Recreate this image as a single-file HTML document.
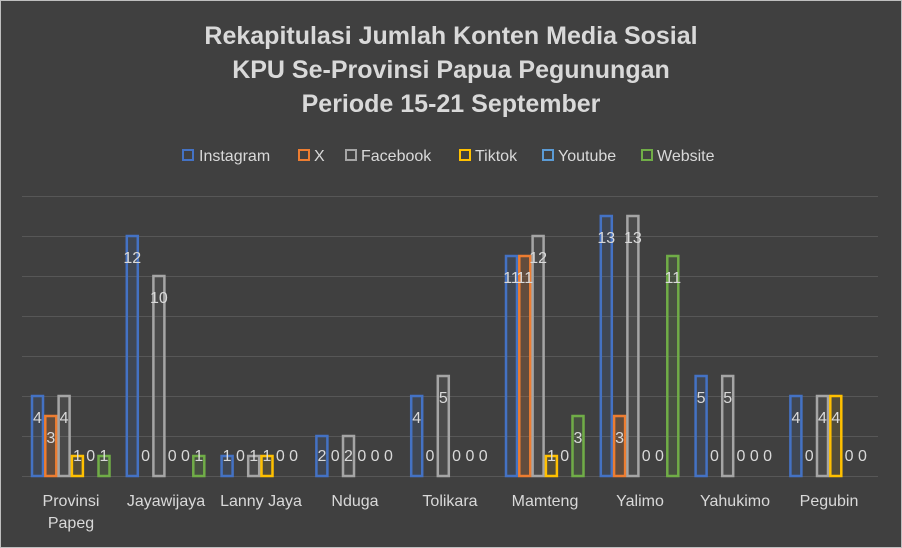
<!DOCTYPE html>
<html><head><meta charset="utf-8"><style>
html,body{margin:0;padding:0;background:#404040;}
svg{display:block;font-family:"Liberation Sans",sans-serif;}
</style></head><body>
<svg width="902" height="548" viewBox="0 0 902 548" xmlns="http://www.w3.org/2000/svg">
<rect x="0" y="0" width="902" height="548" fill="#404040"/>
<rect x="0.5" y="0.5" width="901" height="547" fill="none" stroke="#bfbfbf" stroke-width="1"/>
<g fill="#d9d9d9" font-weight="bold" font-size="25" text-anchor="middle">
<text x="451" y="44">Rekapitulasi Jumlah Konten Media Sosial</text>
<text x="451" y="78">KPU Se-Provinsi Papua Pegunungan</text>
<text x="451" y="112">Periode 15-21 September</text>
</g>
<g font-size="16" fill="#d9d9d9">
<rect x="183" y="150" width="10" height="10" fill="none" stroke="#4472C4" stroke-width="2"/><text x="199" y="161">Instagram</text>
<rect x="299" y="150" width="10" height="10" fill="none" stroke="#ED7D31" stroke-width="2"/><text x="314" y="161">X</text>
<rect x="346" y="150" width="10" height="10" fill="none" stroke="#A5A5A5" stroke-width="2"/><text x="361" y="161">Facebook</text>
<rect x="460" y="150" width="10" height="10" fill="none" stroke="#FFC000" stroke-width="2"/><text x="475" y="161">Tiktok</text>
<rect x="543" y="150" width="10" height="10" fill="none" stroke="#5B9BD5" stroke-width="2"/><text x="558" y="161">Youtube</text>
<rect x="642" y="150" width="10" height="10" fill="none" stroke="#70AD47" stroke-width="2"/><text x="657" y="161">Website</text>
</g>
<g stroke="#575757" stroke-width="1">
<line x1="22" x2="878" y1="196.5" y2="196.5"/>
<line x1="22" x2="878" y1="236.5" y2="236.5"/>
<line x1="22" x2="878" y1="276.5" y2="276.5"/>
<line x1="22" x2="878" y1="316.5" y2="316.5"/>
<line x1="22" x2="878" y1="356.5" y2="356.5"/>
<line x1="22" x2="878" y1="396.5" y2="396.5"/>
<line x1="22" x2="878" y1="436.5" y2="436.5"/>
<line x1="22" x2="878" y1="476.5" y2="476.5"/>
</g>
<g stroke-width="2.5">
<rect x="32" y="396" width="11" height="80" fill="rgba(68,114,196,0.15)" stroke="#4472C4"/>
<rect x="45.3" y="416" width="11" height="60" fill="rgba(237,125,49,0.2)" stroke="#ED7D31"/>
<rect x="58.6" y="396" width="11" height="80" fill="rgba(165,165,165,0.1)" stroke="#A5A5A5"/>
<rect x="71.9" y="456" width="11" height="20" fill="rgba(255,192,0,0.1)" stroke="#FFC000"/>
<rect x="98.5" y="456" width="11" height="20" fill="rgba(112,173,71,0.15)" stroke="#70AD47"/>
<rect x="126.8" y="236" width="11" height="240" fill="rgba(68,114,196,0.15)" stroke="#4472C4"/>
<rect x="153.4" y="276" width="11" height="200" fill="rgba(165,165,165,0.1)" stroke="#A5A5A5"/>
<rect x="193.3" y="456" width="11" height="20" fill="rgba(112,173,71,0.15)" stroke="#70AD47"/>
<rect x="221.6" y="456" width="11" height="20" fill="rgba(68,114,196,0.15)" stroke="#4472C4"/>
<rect x="248.2" y="456" width="11" height="20" fill="rgba(165,165,165,0.1)" stroke="#A5A5A5"/>
<rect x="261.5" y="456" width="11" height="20" fill="rgba(255,192,0,0.1)" stroke="#FFC000"/>
<rect x="316.4" y="436" width="11" height="40" fill="rgba(68,114,196,0.15)" stroke="#4472C4"/>
<rect x="343" y="436" width="11" height="40" fill="rgba(165,165,165,0.1)" stroke="#A5A5A5"/>
<rect x="411.2" y="396" width="11" height="80" fill="rgba(68,114,196,0.15)" stroke="#4472C4"/>
<rect x="437.8" y="376" width="11" height="100" fill="rgba(165,165,165,0.1)" stroke="#A5A5A5"/>
<rect x="506" y="256" width="11" height="220" fill="rgba(68,114,196,0.15)" stroke="#4472C4"/>
<rect x="519.3" y="256" width="11" height="220" fill="rgba(237,125,49,0.2)" stroke="#ED7D31"/>
<rect x="532.6" y="236" width="11" height="240" fill="rgba(165,165,165,0.1)" stroke="#A5A5A5"/>
<rect x="545.9" y="456" width="11" height="20" fill="rgba(255,192,0,0.1)" stroke="#FFC000"/>
<rect x="572.5" y="416" width="11" height="60" fill="rgba(112,173,71,0.15)" stroke="#70AD47"/>
<rect x="600.8" y="216" width="11" height="260" fill="rgba(68,114,196,0.15)" stroke="#4472C4"/>
<rect x="614.1" y="416" width="11" height="60" fill="rgba(237,125,49,0.2)" stroke="#ED7D31"/>
<rect x="627.4" y="216" width="11" height="260" fill="rgba(165,165,165,0.1)" stroke="#A5A5A5"/>
<rect x="667.3" y="256" width="11" height="220" fill="rgba(112,173,71,0.15)" stroke="#70AD47"/>
<rect x="695.6" y="376" width="11" height="100" fill="rgba(68,114,196,0.15)" stroke="#4472C4"/>
<rect x="722.2" y="376" width="11" height="100" fill="rgba(165,165,165,0.1)" stroke="#A5A5A5"/>
<rect x="790.4" y="396" width="11" height="80" fill="rgba(68,114,196,0.15)" stroke="#4472C4"/>
<rect x="817" y="396" width="11" height="80" fill="rgba(165,165,165,0.1)" stroke="#A5A5A5"/>
<rect x="830.3" y="396" width="11" height="80" fill="rgba(255,192,0,0.1)" stroke="#FFC000"/>
</g>
<g font-size="16" fill="#d9d9d9" text-anchor="middle">
<text x="37.5" y="423">4</text><text x="50.8" y="443">3</text><text x="64.1" y="423">4</text><text x="77.4" y="461">1</text><text x="90.7" y="461">0</text><text x="104" y="461">1</text>
<text x="132.3" y="263">12</text><text x="145.6" y="461">0</text><text x="158.9" y="303">10</text><text x="172.2" y="461">0</text><text x="185.5" y="461">0</text><text x="198.8" y="461">1</text>
<text x="227.1" y="461">1</text><text x="240.4" y="461">0</text><text x="253.7" y="461">1</text><text x="267" y="461">1</text><text x="280.3" y="461">0</text><text x="293.6" y="461">0</text>
<text x="321.9" y="461">2</text><text x="335.2" y="461">0</text><text x="348.5" y="461">2</text><text x="361.8" y="461">0</text><text x="375.1" y="461">0</text><text x="388.4" y="461">0</text>
<text x="416.7" y="423">4</text><text x="430" y="461">0</text><text x="443.3" y="403">5</text><text x="456.6" y="461">0</text><text x="469.9" y="461">0</text><text x="483.2" y="461">0</text>
<text x="511.5" y="283">11</text><text x="524.8" y="283">11</text><text x="538.1" y="263">12</text><text x="551.4" y="461">1</text><text x="564.7" y="461">0</text><text x="578" y="443">3</text>
<text x="606.3" y="243">13</text><text x="619.6" y="443">3</text><text x="632.9" y="243">13</text><text x="646.2" y="461">0</text><text x="659.5" y="461">0</text><text x="672.8" y="283">11</text>
<text x="701.1" y="403">5</text><text x="714.4" y="461">0</text><text x="727.7" y="403">5</text><text x="741" y="461">0</text><text x="754.3" y="461">0</text><text x="767.6" y="461">0</text>
<text x="795.9" y="423">4</text><text x="809.2" y="461">0</text><text x="822.5" y="423">4</text><text x="835.8" y="423">4</text><text x="849.1" y="461">0</text><text x="862.4" y="461">0</text>
</g>
<g font-size="16" fill="#d9d9d9" text-anchor="middle">
<text x="71" y="506">Provinsi</text><text x="71" y="528">Papeg</text>
<text x="166" y="506">Jayawijaya</text>
<text x="261" y="506">Lanny Jaya</text>
<text x="355" y="506">Nduga</text>
<text x="450" y="506">Tolikara</text>
<text x="545" y="506">Mamteng</text>
<text x="640" y="506">Yalimo</text>
<text x="735" y="506">Yahukimo</text>
<text x="829" y="506">Pegubin</text>
</g>
</svg>
</body></html>
